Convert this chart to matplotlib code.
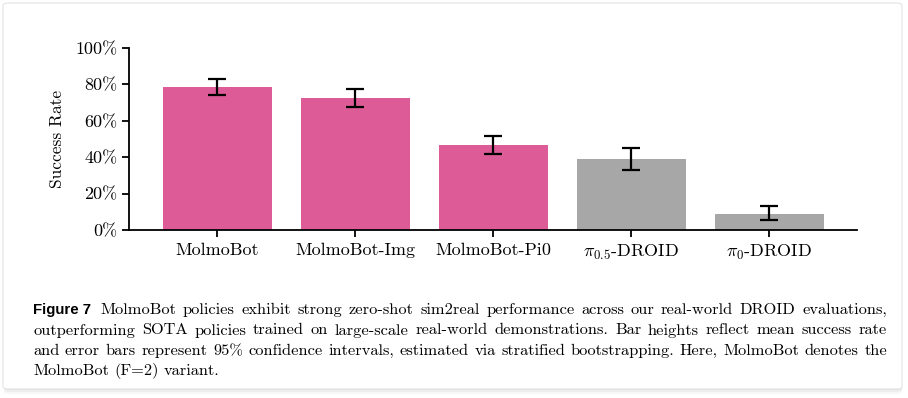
import matplotlib

matplotlib.use("Agg")
import matplotlib.pyplot as plt
from matplotlib.patches import FancyBboxPatch
from matplotlib.ticker import PercentFormatter

# values
policies = ["MolmoBot", "MolmoBot-Img", "MolmoBot-Pi0", r"$\pi_{0.5}$-DROID", r"$\pi_0$-DROID"]
success = [78.7, 72.4, 46.5, 38.8, 8.8]
ci_low = [74.2, 67.6, 41.8, 33.2, 5.5]
ci_high = [83.2, 77.5, 51.8, 45.0, 13.2]
is_ours = [True, True, True, False, False]

caption_lines = [
    "MolmoBot policies exhibit strong zero-shot sim2real performance across our real-world DROID evaluations,",
    "outperforming SOTA policies trained on large-scale real-world demonstrations. Bar heights reflect mean success rate",
    "and error bars represent 95% confidence intervals, estimated via stratified bootstrapping. Here, MolmoBot denotes the",
    "MolmoBot (F=2) variant.",
]

PINK = "#dd5c97"
GREY = "#a7a7a7"
SERIF = ["cmr10", "DejaVu Serif"]

plt.rcParams["font.family"] = SERIF
plt.rcParams["mathtext.fontset"] = "cm"
plt.rcParams["axes.formatter.use_mathtext"] = True

W, H = 908, 398
fig = plt.figure(figsize=(W / 100, H / 100), dpi=100)


def px(x, y):
    return x / W, 1 - y / H


# card background with soft shadow
for i, a in enumerate([0.05, 0.04, 0.03]):
    fig.patches.append(FancyBboxPatch(
        (4 / W, (8 - 2 * i) / H), 898 / W, 384 / H,
        boxstyle="round,pad=0,rounding_size=0.006", transform=fig.transFigure,
        facecolor=(0, 0, 0, a), edgecolor="none", zorder=0))
fig.patches.append(FancyBboxPatch(
    (3 / W, 9 / H), 899 / W, 386 / H,
    boxstyle="round,pad=0,rounding_size=0.006", transform=fig.transFigure,
    facecolor="white", edgecolor="#e4e4e4", linewidth=0.8, zorder=1))

# axes: left 129px, right 857px, top 48px (100%), bottom 230px (0%)
ax = fig.add_axes([129 / W, 1 - 230 / H, (857 - 129) / W, (230 - 48) / H])
ax.set_zorder(2)
ax.patch.set_alpha(0)

x = list(range(len(policies)))
colors = [PINK if o else GREY for o in is_ours]
yerr = [[s - lo for s, lo in zip(success, ci_low)],
        [hi - s for s, hi in zip(success, ci_high)]]
ax.bar(x, success, width=0.79, color=colors, zorder=2)
ax.errorbar(x, success, yerr=yerr, fmt="none", ecolor="black",
            elinewidth=1.6, capsize=6.5, capthick=1.6, zorder=3)

ax.set_xlim(-0.64, 4.634)
ax.set_ylim(0, 100)
ax.set_yticks([0, 20, 40, 60, 80, 100])
ax.yaxis.set_major_formatter(PercentFormatter(decimals=0))
ax.set_xticks(x)
ax.set_xticklabels(policies)
ax.set_ylabel("Success Rate", fontsize=12.5, labelpad=7)
ax.tick_params(axis="both", labelsize=13, width=1.3, length=5, direction="out")
ax.tick_params(axis="x", pad=4)
for side in ["top", "right"]:
    ax.spines[side].set_visible(False)
for side in ["left", "bottom"]:
    ax.spines[side].set_linewidth(1.3)

# caption, justified word by word
fig.canvas.draw()
renderer = fig.canvas.get_renderer()
left_px, right_px = 33, 887
line_y = [314, 334.5, 355, 375]
cap_size = 11.8

head = fig.text(*px(left_px, line_y[0]), "Figure 7", fontsize=10.8, fontweight="bold",
                family=["Liberation Sans Narrow", "Liberation Sans", "DejaVu Sans"],
                va="baseline", ha="left", zorder=3)
head_w = head.get_window_extent(renderer).width

for i, line in enumerate(caption_lines):
    start = left_px + (head_w + 9 if i == 0 else 0)
    words = line.split(" ")
    texts = [fig.text(0, 0, w, fontsize=cap_size, va="baseline", ha="left", zorder=3) for w in words]
    widths = [t.get_window_extent(renderer).width for t in texts]
    if i < len(caption_lines) - 1:
        gap = (right_px - start - sum(widths)) / (len(words) - 1)
    else:
        gap = 5.0
    cur = start
    for t, w in zip(texts, widths):
        t.set_position(px(cur, line_y[i]))
        cur += w + gap

fig.savefig("out.png", dpi=100)
